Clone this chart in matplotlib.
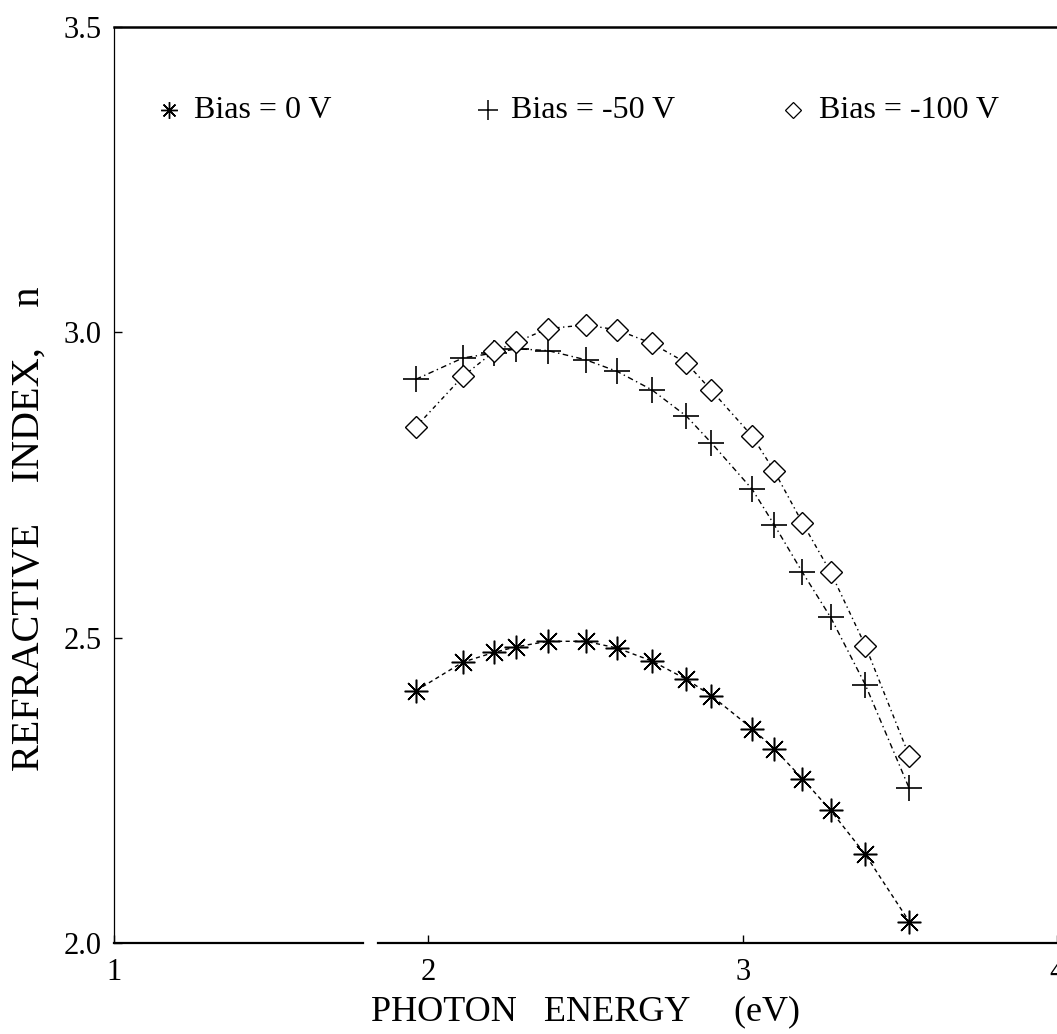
import matplotlib
matplotlib.use("Agg")
import matplotlib.pyplot as plt

plt.rcParams['font.family'] = ['Liberation Serif', 'DejaVu Serif']

# Photon energy (eV) of each measurement
energy = [1.96, 2.11, 2.21, 2.28, 2.38, 2.50, 2.60, 2.71, 2.82, 2.90,
          3.03, 3.10, 3.19, 3.28, 3.39, 3.53]

# Refractive index for each substrate bias
n_bias_0 = [2.413, 2.460, 2.476, 2.485, 2.494, 2.494, 2.483, 2.462, 2.432, 2.405,
            2.351, 2.318, 2.269, 2.217, 2.145, 2.035]
n_bias_50 = [2.923, 2.958, 2.966, 2.973, 2.970, 2.955, 2.936, 2.906, 2.863, 2.819,
             2.743, 2.685, 2.607, 2.533, 2.423, 2.253]
n_bias_100 = [2.845, 2.928, 2.969, 2.984, 3.006, 3.012, 3.004, 2.982, 2.950, 2.905,
              2.830, 2.773, 2.688, 2.607, 2.487, 2.306]

series_labels = ["Bias = 0 V", "Bias = -50 V", "Bias = -100 V"]
x_ticks = [1, 2, 3, 4]
y_ticks = [2.0, 2.5, 3.0, 3.5]
y_tick_labels = ["2.0", "2.5", "3.0", "3.5"]

fig = plt.figure(figsize=(10.57, 10.34), dpi=100)
ax = fig.add_axes([0.108, 0.088, 0.892, 0.886])

star = (8, 2, 0)
styles = [
    dict(marker=star, ms=17, mew=1.1, mec='black', ls=(0, (3, 2.5))),
    dict(marker='+', ms=19, mew=1.2, mec='black', ls=(0, (4, 2.5, 1, 2.5))),
    dict(marker='D', ms=11, mew=1.0, mfc='white', mec='black',
         ls=(0, (3, 2.5, 1, 2.5))),
]
for n_vals, st in zip([n_bias_0, n_bias_50, n_bias_100], styles):
    ax.plot(energy, n_vals, color='black', lw=1.0, **st)

ax.set_xlim(1, 4)
ax.set_ylim(2.0, 3.5)
ax.set_xticks(x_ticks)
ax.set_xticklabels([str(v) for v in x_ticks])
ax.set_yticks(y_ticks)
ax.set_yticklabels(y_tick_labels)
ax.tick_params(direction='in', length=6, width=1, labelsize=22, pad=9,
               colors='black')
ax.tick_params(axis='x', pad=11)

# frame: heavy top rule, light left/right rules, bottom rule with a small break
ax.spines['top'].set_linewidth(1.8)
ax.spines['left'].set_linewidth(0.9)
ax.spines['left'].set_linestyle((0, (6, 1)))
ax.spines['right'].set_linewidth(0.6)
ax.spines['right'].set_color('#bbbbbb')
ax.spines['bottom'].set_visible(False)
ax.plot([0, 0.264], [0, 0], transform=ax.transAxes, color='black', lw=1.6,
        clip_on=False)
ax.plot([0.280, 1], [0, 0], transform=ax.transAxes, color='black', lw=1.6,
        clip_on=False)

ax.set_xlabel("PHOTON   ENERGY     (eV)", fontsize=26, labelpad=6)
ax.set_ylabel("REFRACTIVE    INDEX,    n", fontsize=29)
ax.yaxis.set_label_coords(-0.071, 0.452)

# key row across the top of the plot
key_y = 0.909
key_items = [
    (0.058, 0.085, dict(marker=star, ms=12, mew=1.0)),
    (0.397, 0.421, dict(marker='+', ms=14, mew=1.1)),
    (0.720, 0.748, dict(marker='D', ms=8, mew=0.9, mfc='white')),
]
for (mx, tx, mk), label in zip(key_items, series_labels):
    ax.plot([mx], [key_y], transform=ax.transAxes, ls='none', color='black',
            mec='black', clip_on=False, **mk)
    ax.text(tx, key_y, label, transform=ax.transAxes, fontsize=23,
            va='center', ha='left')

fig.savefig("out.png", dpi=100)
